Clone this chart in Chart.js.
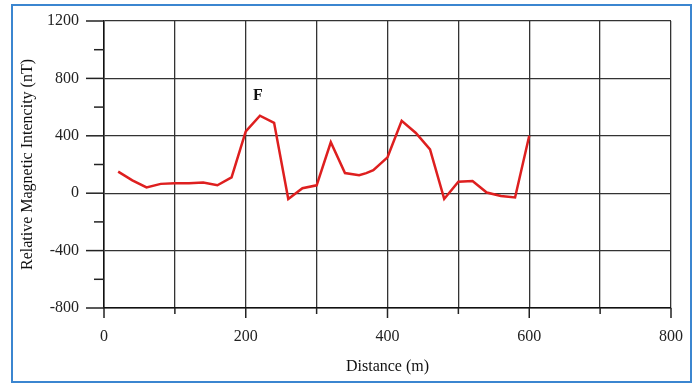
<!DOCTYPE html>
<html>
<head>
<meta charset="utf-8">
<script src="https://cdn.jsdelivr.net/npm/chart.js@4/dist/chart.umd.min.js"></script>
<style>
  html, body { margin: 0; padding: 0; background: #fff; }
  #frame { position: absolute; left: 11px; top: 4px; width: 677px; height: 375px; border: 2px solid #3b86d0; }
  #wrap { position: absolute; left: 0; top: 0; width: 699px; height: 385px; }
</style>
</head>
<body>
<div id="frame"></div>
<div id="wrap"><canvas id="magChart" width="699" height="385"></canvas></div>
<script>
// survey profile
const distance = [20, 40, 60, 80, 100, 120, 140, 160, 180, 200, 220, 240, 260, 280, 300,
                  320, 340, 360, 370, 380, 400, 420, 440, 460, 480, 500, 520, 540, 560, 580, 600];
const intensity = [150, 90, 40, 65, 70, 70, 75, 55, 110, 430, 540, 490, -40, 35, 55,
                   355, 140, 125, 140, 160, 250, 505, 420, 305, -40, 80, 85, 5, -20, -30, 400];

const xTicks = [0, 100, 200, 300, 400, 500, 600, 700, 800];
const yTicks = [-800, -600, -400, -200, 0, 200, 400, 600, 800, 1000, 1200];

const peakLabel = { text: "F", x: 217, y: 680 };

const serif = "'Liberation Serif', 'Times New Roman', serif";

// hand drawn tick marks (long on labelled values, short in between)
const tickMarks = {
    id: "tickMarks",
    afterDraw(chart) {
        const ctx = chart.ctx;
        const xs = chart.scales.x, ys = chart.scales.y;
        const area = chart.chartArea;
        ctx.save();
        ctx.strokeStyle = "#222";
        ctx.lineWidth = 1.5;
        xTicks.forEach(v => {
            const px = xs.getPixelForValue(v);
            const len = v % 200 === 0 ? 10 : 6;
            ctx.beginPath();
            ctx.moveTo(px, area.bottom);
            ctx.lineTo(px, area.bottom + len);
            ctx.stroke();
        });
        yTicks.forEach(v => {
            const py = ys.getPixelForValue(v);
            const len = v % 400 === 0 ? 18 : 10;
            ctx.beginPath();
            ctx.moveTo(area.left - len, py);
            ctx.lineTo(area.left, py);
            ctx.stroke();
        });
        // peak letter
        ctx.fillStyle = "#111";
        ctx.font = "bold 16px " + serif;
        ctx.textAlign = "center";
        ctx.textBaseline = "middle";
        ctx.fillText(peakLabel.text, xs.getPixelForValue(peakLabel.x), ys.getPixelForValue(peakLabel.y));
        ctx.restore();
    }
};

new Chart(document.getElementById("magChart").getContext("2d"), {
    type: "line",
    data: {
        datasets: [{
            data: distance.map((d, i) => ({ x: d, y: intensity[i] })),
            borderColor: "#de1f1f",
            borderWidth: 2.5,
            pointRadius: 0,
            tension: 0,
            fill: false
        }]
    },
    options: {
        responsive: false,
        animation: false,
        layout: { padding: { top: 21, right: 28, left: 0, bottom: 0 } },
        plugins: { legend: { display: false }, tooltip: { enabled: false } },
        scales: {
            x: {
                type: "linear",
                min: 0,
                max: 800,
                afterBuildTicks: s => { s.ticks = xTicks.map(v => ({ value: v })); },
                afterFit: s => { s.height = 77; },
                grid: { color: "#333", lineWidth: 1.3, drawTicks: true, tickLength: 17, tickColor: "rgba(0,0,0,0)" },
                border: { color: "#111", width: 1.5 },
                ticks: {
                    padding: 2,
                    maxRotation: 0,
                    autoSkip: false,
                    color: "#222",
                    font: { family: serif, size: 16 },
                    callback: v => (v % 200 === 0 ? v : "")
                },
                title: {
                    display: true,
                    text: "Distance (m)",
                    color: "#111",
                    font: { family: serif, size: 16 },
                    padding: { top: 4, bottom: 9 }
                }
            },
            y: {
                min: -800,
                max: 1200,
                afterBuildTicks: s => { s.ticks = yTicks.map(v => ({ value: v })); },
                afterFit: s => { s.width = 104; },
                grid: {
                    color: c => (c.tick && c.tick.value % 400 === 0 ? "#333" : "rgba(0,0,0,0)"),
                    lineWidth: 1.3,
                    drawTicks: true,
                    tickLength: 22,
                    tickColor: "rgba(0,0,0,0)"
                },
                border: { color: "#111", width: 1.5 },
                ticks: {
                    padding: 3,
                    autoSkip: false,
                    color: "#222",
                    font: { family: serif, size: 16 },
                    callback: v => (v % 400 === 0 ? v : "")
                },
                title: {
                    display: true,
                    text: "Relative Magnetic Intencity (nT)",
                    color: "#111",
                    font: { family: serif, size: 16 },
                    padding: { top: 18, bottom: 0 }
                }
            }
        }
    },
    plugins: [tickMarks]
});
</script>
</body>
</html>
